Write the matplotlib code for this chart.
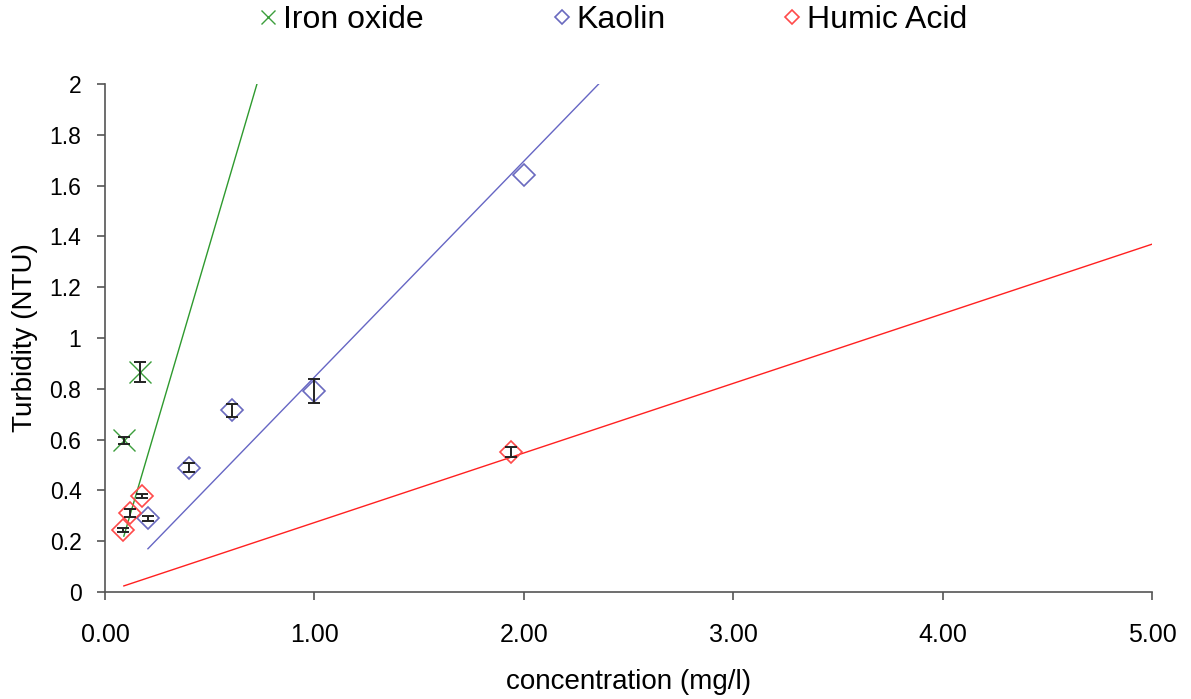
import matplotlib.pyplot as plt
import numpy as np

plt.rcParams['font.family'] = ['Liberation Sans', 'DejaVu Sans']

# measured turbidity vs. concentration
iron_conc = [0.09, 0.167]
iron_ntu = [0.597, 0.866]
iron_err = [0.015, 0.038]

kaolin_conc = [0.205, 0.40, 0.606, 1.0, 2.0]
kaolin_ntu = [0.29, 0.49, 0.715, 0.79, 1.64]
kaolin_err = [0.01, 0.016, 0.026, 0.047, 0.0]

humic_conc = [0.086, 0.12, 0.177, 1.94]
humic_ntu = [0.243, 0.31, 0.378, 0.552]
humic_err = [0.008, 0.016, 0.008, 0.02]

# linear trend lines: slope, intercept, x range
iron_fit = (2.8, -0.032, 0.09, 0.726)
kaolin_fit = (0.85, -0.004, 0.205, 2.36)
humic_fit = (0.274, -0.0007, 0.09, 5.0)

green = '#3c9e3c'
blue = '#6a6abf'
red = '#ff4a4a'

W, H = 1191, 699
fig = plt.figure(figsize=(W / 100, H / 100), dpi=100)
ax = fig.add_axes([105 / W, 1 - 592 / H, (1152 - 105) / W, (592 - 84) / H])


def trend(fit, color):
    m, b, x0, x1 = fit
    xs = np.array([x0, x1])
    ax.plot(xs, m * xs + b, color=color, lw=1.0, zorder=2)


trend(iron_fit, '#2e9a2e')
trend(kaolin_fit, '#6666c4')
trend(humic_fit, '#ff2020')

ms = 11
h_iron, = ax.plot(iron_conc, iron_ntu, 'x', color=green, ms=ms * 1.4, mew=1.0,
                  zorder=3)
h_kaolin, = ax.plot(kaolin_conc, kaolin_ntu, 'D', mfc='none', mec=blue, ms=ms,
                    mew=1.2, zorder=3)
h_humic, = ax.plot(humic_conc, humic_ntu, 'D', mfc='none', mec=red, ms=ms,
                   mew=1.2, zorder=3)

# error bars only where a spread was measured
for xs, ys, es in [(iron_conc, iron_ntu, iron_err),
                   (kaolin_conc, kaolin_ntu, kaolin_err),
                   (humic_conc, humic_ntu, humic_err)]:
    keep = [i for i, e in enumerate(es) if e > 0]
    ax.errorbar([xs[i] for i in keep], [ys[i] for i in keep],
                yerr=[es[i] for i in keep], fmt='none', ecolor='#222222',
                elinewidth=1.4, capsize=4.5, capthick=1.4, zorder=4)

ax.set_xlim(0, 5)
ax.set_ylim(0, 2)
ax.set_xticks(np.arange(0, 5.01, 1))
ax.set_xticklabels(['%.2f' % v for v in np.arange(0, 5.01, 1)])
ax.set_yticks(np.arange(0, 2.01, 0.2))
ax.set_yticklabels(['%g' % round(v, 1) for v in np.arange(0, 2.01, 0.2)])
ax.tick_params(length=6, width=1.2, color='#555555')
ax.tick_params(axis='x', labelsize=18, pad=16)
ax.tick_params(axis='y', labelsize=16.5, pad=11)
for side in ['top', 'right']:
    ax.spines[side].set_visible(False)
for side in ['left', 'bottom']:
    ax.spines[side].set_color('#555555')
    ax.spines[side].set_linewidth(1.2)

ax.set_xlabel('concentration (mg/l)', fontsize=20, labelpad=16)
ax.set_ylabel('Turbidity (NTU)', fontsize=20, labelpad=8)

# legend entries placed individually across the top
for handle, label, left in [(h_iron, 'Iron oxide', 257),
                            (h_kaolin, 'Kaolin', 551),
                            (h_humic, 'Humic Acid', 781)]:
    fig.legend([handle], [label], loc='center left',
               bbox_to_anchor=(left / W, 1 - 20 / H), frameon=False,
               fontsize=23, markerscale=0.68, handlelength=0.7,
               handletextpad=0.1, borderpad=0, borderaxespad=0)

fig.savefig('out.png', dpi=100)
